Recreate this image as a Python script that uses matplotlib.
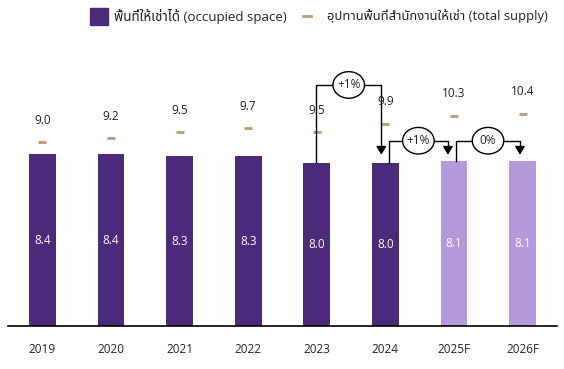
import matplotlib
matplotlib.use("Agg")
import matplotlib.pyplot as plt
from matplotlib.patches import Ellipse, Rectangle
from matplotlib.lines import Line2D

plt.rcParams["font.family"] = ["Open Sans", "Noto Sans Thai"]

# data
years = ["2019", "2020", "2021", "2022", "2023", "2024", "2025F", "2026F"]
occupied = [8.4, 8.4, 8.3, 8.3, 8.0, 8.0, 8.1, 8.1]
supply = [9.0, 9.2, 9.5, 9.7, 9.5, 9.9, 10.3, 10.4]
forecast = [False, False, False, False, False, False, True, True]
changes = ["+1%", "+1%", "0%"]

dark = "#4B2A7C"
light = "#B59ADB"
tan = "#C19A6B"
txt = "#222222"

fig = plt.figure(figsize=(5.64, 3.69), dpi=100)
ax = fig.add_axes([8 / 564, 43 / 369, 549 / 564, 286 / 369])

x = list(range(len(years)))
colors = [light if f else dark for f in forecast]
ax.bar(x, occupied, width=0.39, color=colors, zorder=2)

for i, v in enumerate(occupied):
    ax.text(i, v / 2, f"{v:.1f}", ha="center", va="center", color="white", fontsize=8.5)

# supply markers + labels
ax.scatter(x, supply, marker="_", s=33, color=tan, linewidths=2, zorder=3)
for i, v in enumerate(supply):
    ax.text(i, v + 0.75, f"{v:.1f}", ha="center", va="bottom", color=txt, fontsize=8.5)

# change connectors
def connector(x0, x1, y0, y_top, y_end, label):
    ax.plot([x0, x0, x1, x1], [y0, y_top, y_top, y_end + 0.35], color="black", lw=1, zorder=4)
    ax.annotate("", xy=(x1, y_end), xytext=(x1, y_end + 0.4),
                arrowprops=dict(arrowstyle="-|>,head_width=0.3,head_length=0.5",
                                color="black", lw=1, shrinkA=0, shrinkB=0), zorder=5)
    xm = (x0 + x1) / 2
    ax.add_patch(Ellipse((xm, y_top), 0.46, 1.3, facecolor="white",
                         edgecolor="black", lw=1, zorder=5))
    ax.text(xm, y_top, label, ha="center", va="center", fontsize=8.5, color=txt, zorder=6)

connector(3.99, 4.94, occupied[4], 11.8, 8.38, changes[0])
connector(5.05, 5.91, occupied[5], 9.07, 8.38, changes[1])
connector(6.03, 6.96, occupied[6], 9.07, 8.38, changes[2])

ax.set_xlim(-0.5, 7.5)
ax.set_ylim(0, 14)
ax.set_xticks(x)
ax.set_xticklabels(years, fontsize=8.5, color=txt)
ax.tick_params(axis="x", length=0, pad=12)
ax.set_yticks([])
for s in ["top", "right", "left"]:
    ax.spines[s].set_visible(False)
ax.spines["bottom"].set_linewidth(1.2)

# legend
ly = 1 - 16 / 369
fig.patches.append(Rectangle((90 / 564, 1 - 25 / 369), 18 / 564, 17 / 369,
                             transform=fig.transFigure, color=dark))
fig.text(114 / 564, ly, "พื้นที่ให้เช่าได้ (occupied space)",
         va="center", ha="left", fontsize=9.6, color=txt)
fig.lines.append(Line2D([303 / 564, 311 / 564], [ly, ly],
                        transform=fig.transFigure, color=tan, lw=2))
fig.text(327 / 564, ly, "อุปทานพื้นที่สำนักงานให้เช่า (total supply)",
         va="center", ha="left", fontsize=9.4, color=txt)

fig.savefig("out.png", dpi=100)
